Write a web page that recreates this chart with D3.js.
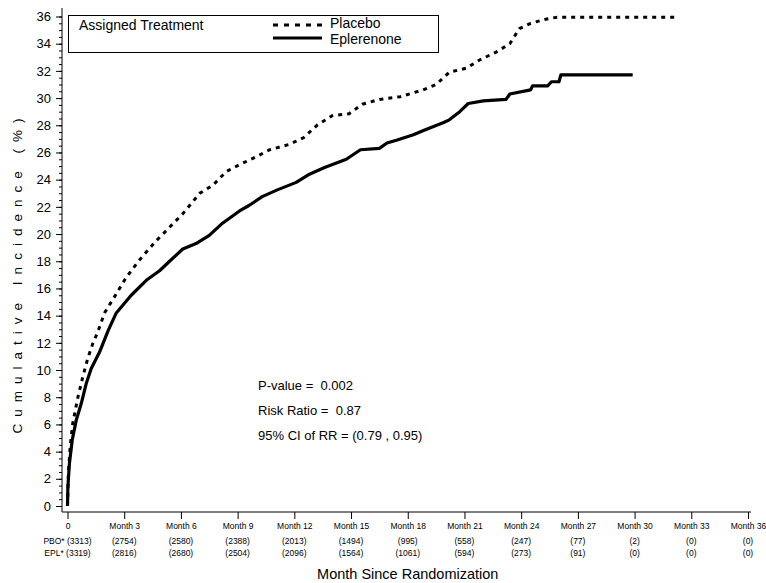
<!DOCTYPE html>
<html>
<head>
<meta charset="utf-8">
<script src="https://cdn.jsdelivr.net/npm/d3@7"></script>
<style>
  body { margin: 0; background: #fff; }
  svg { font-family: "Liberation Sans", Arial, sans-serif; }
</style>
</head>
<body>
<div id="chart"></div>
<script>
// 1. Data

const monthTicks = [0, 3, 6, 9, 12, 15, 18, 21, 24, 27, 30, 33, 36];
const tickLabels = ["0", "Month 3", "Month 6", "Month 9", "Month 12", "Month 15", "Month 18",
    "Month 21", "Month 24", "Month 27", "Month 30", "Month 33", "Month 36"];
const pboAtRisk = [3313, 2754, 2580, 2388, 2013, 1494, 995, 558, 247, 77, 2, 0, 0];
const eplAtRisk = [3319, 2816, 2680, 2504, 2096, 1564, 1061, 594, 273, 91, 0, 0, 0];

const placeboMonths = [0, 0.05, 0.15, 0.28, 0.55, 0.81, 1.07, 1.34, 1.6, 1.96, 2.58, 3.1, 3.81, 4.69,
    5.4, 6.1, 7.0, 7.7, 8.4, 9.1, 10.0, 10.7, 11.75, 12.5, 13.2, 14.0, 14.9, 15.6, 16.5, 17.6,
    18.8, 19.5, 20.2, 21.1, 21.8, 22.7, 23.4, 23.9, 24.5, 25.3, 25.9, 32.1];
const placeboValues = [0, 2.5, 4.5, 6.1, 8.0, 9.5, 10.85, 11.95, 12.8, 14.2, 15.6, 16.8, 18.1, 19.5,
    20.5, 21.5, 23.0, 23.6, 24.6, 25.1, 25.7, 26.2, 26.6, 27.1, 28.0, 28.7, 28.85, 29.55, 29.9, 30.1,
    30.6, 31.0, 31.9, 32.2, 32.8, 33.4, 34.0, 35.1, 35.5, 35.8, 35.95, 35.95];

const eplerMonths = [0, 0.02, 0.1, 0.25, 0.46, 0.72, 0.99, 1.25, 1.69, 2.15, 2.58, 3.37, 4.17, 4.87,
    5.4, 6.1, 6.8, 7.5, 8.2, 9.1, 9.6, 10.3, 11.1, 12.1, 12.8, 13.6, 14.75, 15.5, 16.5, 16.9, 17.4,
    18.3, 18.8, 19.9, 20.2, 20.75, 21.2, 22.0, 23.2, 23.4, 24.5, 24.6, 25.4, 25.6, 26.0, 26.1, 29.9];
const eplerValues = [0, 1.4, 3.1, 4.85, 6.3, 7.5, 9.0, 10.1, 11.3, 12.9, 14.2, 15.5, 16.6, 17.3,
    18.0, 18.9, 19.3, 19.9, 20.8, 21.7, 22.1, 22.75, 23.25, 23.8, 24.4, 24.9, 25.5, 26.2, 26.3, 26.7, 26.9,
    27.3, 27.6, 28.2, 28.4, 29.0, 29.6, 29.8, 29.9, 30.3, 30.6, 30.9, 30.9, 31.2, 31.2, 31.7, 31.7];

const statLines = ["P-value =  0.002", "Risk Ratio =  0.87", "95% CI of RR = (0.79 , 0.95)"];

// 2. Dimensions

const dimensions = { width: 766, height: 583 };

const chart = d3.select("#chart")
    .append("svg")
    .attr("width", dimensions.width)
    .attr("height", dimensions.height);

// 3. Scales

const xScale = d3.scaleLinear().domain([0, 36]).range([67.5, 748]);
const yScale = d3.scaleLinear().domain([0, 36]).range([506, 16.5]);

const axisX = 62;
const axisY = 512;

// 4. Axes

// minor ticks every 0.5
chart.append("g")
    .attr("transform", `translate(${axisX},0)`)
    .call(d3.axisLeft(yScale).tickValues(d3.range(0, 36.01, 0.5)).tickSize(3).tickFormat(""))
    .call(g => g.select(".domain").remove());

chart.append("g")
    .attr("transform", `translate(${axisX},0)`)
    .call(d3.axisLeft(yScale).tickValues(d3.range(0, 37, 2)).tickSize(6).tickPadding(5))
    .call(g => g.select(".domain").remove())
    .selectAll("text")
    .style("font-size", "13px")
    .style("font-family", "Liberation Sans, Arial, sans-serif");

chart.append("line")
    .attr("x1", axisX).attr("x2", axisX)
    .attr("y1", 8).attr("y2", axisY)
    .attr("stroke", "black");

chart.append("g")
    .attr("transform", `translate(0,${axisY})`)
    .call(d3.axisBottom(xScale).tickValues(monthTicks).tickSize(7).tickPadding(4)
        .tickFormat((d, i) => tickLabels[i]))
    .call(g => g.select(".domain").remove())
    .selectAll("text")
    .style("font-size", "8.5px")
    .style("font-family", "Liberation Sans, Arial, sans-serif");

chart.append("line")
    .attr("x1", axisX).attr("x2", 751)
    .attr("y1", axisY).attr("y2", axisY)
    .attr("stroke", "black");

// numbers at risk
chart.append("g").selectAll("text")
    .data(pboAtRisk)
    .join("text")
    .attr("x", (d, i) => xScale(monthTicks[i]))
    .attr("y", 544)
    .attr("text-anchor", "middle")
    .style("font-size", "8.5px")
    .text((d, i) => i === 0 ? `PBO* (${d})` : `(${d})`);

chart.append("g").selectAll("text")
    .data(eplAtRisk)
    .join("text")
    .attr("x", (d, i) => xScale(monthTicks[i]))
    .attr("y", 556)
    .attr("text-anchor", "middle")
    .style("font-size", "8.5px")
    .text((d, i) => i === 0 ? `EPL* (${d})` : `(${d})`);

chart.append("text")
    .attr("x", (xScale(0) + xScale(36)) / 2)
    .attr("y", 579)
    .attr("text-anchor", "middle")
    .style("font-size", "14.5px")
    .text("Month Since Randomization");

chart.append("text")
    .attr("transform", "translate(22,276) rotate(-90)")
    .attr("text-anchor", "middle")
    .attr("textLength", 315)
    .attr("lengthAdjust", "spacing")
    .style("font-size", "13.5px")
    .text("Cumulative Incidence (%)");

// 5. Curves

const line = d3.line()
    .x(d => xScale(d[0]))
    .y(d => yScale(d[1]));

chart.append("path")
    .datum(d3.zip(placeboMonths, placeboValues))
    .attr("d", line)
    .attr("fill", "none")
    .attr("stroke", "black")
    .attr("stroke-width", 3)
    .attr("stroke-dasharray", "4,5");

chart.append("path")
    .datum(d3.zip(eplerMonths, eplerValues))
    .attr("d", line)
    .attr("fill", "none")
    .attr("stroke", "black")
    .attr("stroke-width", 3.2)
    .attr("stroke-linejoin", "round");

// 6. Legend

const legend = chart.append("g");

legend.append("rect")
    .attr("x", 68.5).attr("y", 15.5)
    .attr("width", 370).attr("height", 37)
    .attr("fill", "white")
    .attr("stroke", "black");

legend.append("text")
    .attr("x", 79).attr("y", 30)
    .style("font-size", "14px")
    .text("Assigned Treatment");

legend.append("line")
    .attr("x1", 273).attr("x2", 322)
    .attr("y1", 25).attr("y2", 25)
    .attr("stroke", "black")
    .attr("stroke-width", 3)
    .attr("stroke-dasharray", "5,6");

legend.append("line")
    .attr("x1", 273).attr("x2", 322)
    .attr("y1", 38).attr("y2", 38)
    .attr("stroke", "black")
    .attr("stroke-width", 3);

legend.append("text")
    .attr("x", 330).attr("y", 28)
    .style("font-size", "14px")
    .text("Placebo");

legend.append("text")
    .attr("x", 330).attr("y", 44)
    .style("font-size", "14px")
    .text("Eplerenone");

// statistics
chart.append("g").selectAll("text")
    .data(statLines)
    .join("text")
    .attr("x", 258)
    .attr("y", (d, i) => 390 + i * 25)
    .style("font-size", "13px")
    .style("white-space", "pre")
    .text(d => d);
</script>
</body>
</html>
